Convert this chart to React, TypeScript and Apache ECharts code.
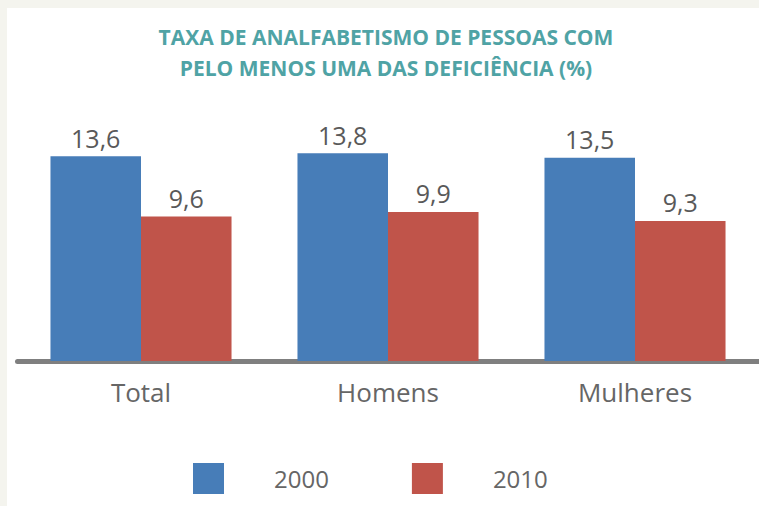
import React, { useEffect, useRef } from "react";
import * as echarts from "echarts";

const categories = ["Total", "Homens", "Mulheres"];
const series2000 = [13.6, 13.8, 13.5];
const series2010 = [9.6, 9.9, 9.3];
const seriesNames = ["2000", "2010"];
const titleLines = ["TAXA DE ANALFABETISMO DE PESSOAS COM", "PELO MENOS UMA DAS DEFICIÊNCIA (%)"];

export default function App() {
  const ref = useRef<HTMLDivElement>(null);
  useEffect(() => {
    if (!ref.current) return;
    const chart = echarts.init(ref.current, null, { renderer: "svg" });
    const font = "Open Sans";
    const label = {
      show: true,
      position: "top",
      distance: 6,
      fontFamily: font,
      fontSize: 25,
      color: "#595959",
      formatter: (p: any) => String(p.value).replace(".", ","),
    };
    chart.setOption({
      animation: false,
      backgroundColor: "#f4f4ee",
      graphic: [
        { type: "rect", z: -10, shape: { x: 7, y: 8, width: 760, height: 510 }, style: { fill: "#ffffff" } },
        {
          type: "text", x: 386, y: 37, z: 10,
          style: { text: titleLines[0], fill: "#4fa3a5", font: `bold 21px "${font}"`, textAlign: "center", textVerticalAlign: "middle" },
        },
        {
          type: "text", x: 386, y: 68, z: 10,
          style: { text: titleLines[1], fill: "#4fa3a5", font: `bold 21px "${font}"`, textAlign: "center", textVerticalAlign: "middle" },
        },
      ],
      legend: {
        data: seriesNames,
        left: 193,
        top: 463,
        padding: 0,
        itemWidth: 31,
        itemHeight: 31,
        itemGap: 83,
        icon: "rect",
        textStyle: { fontFamily: font, fontSize: 24, color: "#666666", padding: [0, 0, 0, 45] },
      },
      grid: { left: 17.5, right: 0.5, top: 120, bottom: 145 },
      xAxis: {
        type: "category",
        data: categories,
        axisTick: { show: false },
        axisLine: { lineStyle: { color: "#7f7f7f", width: 5 } },
        axisLabel: { fontFamily: font, fontSize: 26, color: "#666666", margin: 18 },
      },
      yAxis: { type: "value", min: 0, max: 16, show: false },
      series: [
        { name: seriesNames[0], type: "bar", data: series2000, barGap: 0, barCategoryGap: "26.7%", itemStyle: { color: "#477db8" }, label },
        { name: seriesNames[1], type: "bar", data: series2010, barGap: 0, barCategoryGap: "26.7%", itemStyle: { color: "#c0544a" }, label },
      ],
    });
    return () => chart.dispose();
  }, []);
  return <div ref={ref} style={{ position: "absolute", left: 0, top: 0, width: 759, height: 506 }} />;
}
